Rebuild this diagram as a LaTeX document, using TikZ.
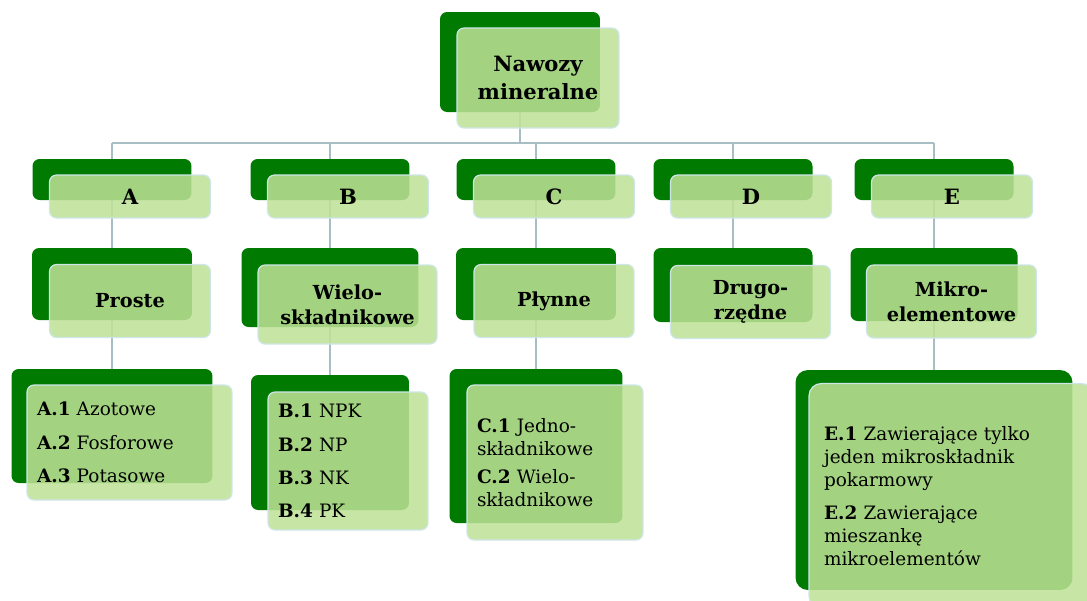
\documentclass[tikz,border=0pt]{standalone}
\usepackage{fontspec}
\setmainfont{DejaVu Serif}
\usepackage{xcolor}
\usepackage{tikz}
\usetikzlibrary{calc,backgrounds}

\definecolor{leafdark}{RGB}{0,122,0}
\definecolor{leaflight}{RGB}{190,226,150}
\definecolor{leafedge}{RGB}{206,230,232}
\definecolor{linkgray}{RGB}{166,190,196}

\tikzset{
    backbox/.style={fill=leafdark, rounded corners=4pt, inner sep=0pt},
    frontbox/.style={fill=leaflight, fill opacity=0.86, text opacity=1, draw=leafedge,
        line width=0.7pt, rounded corners=4pt, inner sep=0pt, align=center,
        font=\bfseries\fontsize{11}{14}\selectfont},
    listbox/.style={frontbox, align=left, inner xsep=0.2cm,
        font=\fontsize{10.5}{13}\selectfont},
    link/.style={draw=linkgray, line width=1.3pt},
}

\begin{document}
\begin{tikzpicture}[x=0.02cm, y=-0.02cm]
    \useasboundingbox (0,0) rectangle (1087,600);

    % Root
    \node[backbox, minimum width=3.2cm, minimum height=2cm] (root) at (520,62) {};
    \node[frontbox, minimum width=3.24cm, minimum height=2cm,
        font=\bfseries\fontsize{12}{15.5}\selectfont] (root-f) at ([shift={(18,16)}]root) {Nawozy\\mineralne};

    % Level 1 (letters)
    \foreach \n/\x in {A/112, B/330, C/536, D/733, E/934} {
        \node[backbox, minimum width=3.18cm, minimum height=0.82cm] (\n) at (\x,179.5) {};
        \node[frontbox, minimum width=3.22cm, minimum height=0.86cm,
            font=\bfseries\fontsize{12}{14}\selectfont] (\n-f) at ([shift={(18,17)}]\n) {\n};
    }

    % Level 2 (groups)
    \node[backbox, minimum width=3.2cm, minimum height=1.44cm] (A2) at (112,284) {};
    \node[frontbox, minimum width=3.22cm, minimum height=1.46cm] (A2-f) at ([shift={(18,17)}]A2) {Proste};
    \node[backbox, minimum width=3.54cm, minimum height=1.58cm] (B2) at (330,287.5) {};
    \node[frontbox, minimum width=3.58cm, minimum height=1.58cm] (B2-f) at ([shift={(17.5,17)}]B2) {Wielo-\\składnikowe};
    \node[backbox, minimum width=3.2cm, minimum height=1.44cm] (C2) at (536,284) {};
    \node[frontbox, minimum width=3.2cm, minimum height=1.46cm] (C2-f) at ([shift={(18,17)}]C2) {Płynne};
    \node[backbox, minimum width=3.18cm, minimum height=1.48cm] (D2) at (733,285) {};
    \node[frontbox, minimum width=3.2cm, minimum height=1.46cm] (D2-f) at ([shift={(17.5,17)}]D2) {Drugo-\\rzędne};
    \node[backbox, minimum width=3.34cm, minimum height=1.46cm] (E2) at (934,284.5) {};
    \node[frontbox, minimum width=3.4cm, minimum height=1.46cm] (E2-f) at ([shift={(17.5,17)}]E2) {Mikro-\\elementowe};

    % Level 3 (lists)
    \node[backbox, minimum width=4.02cm, minimum height=2.28cm] (A3) at (112,426) {};
    \node[listbox, text width=3.7cm, minimum height=2.3cm] (A3-f) at ([shift={(17.5,16.5)}]A3)
        {\textbf{A.1} Azotowe\\[6pt] \textbf{A.2} Fosforowe\\[6pt] \textbf{A.3} Potasowe};
    \node[backbox, minimum width=3.16cm, minimum height=2.7cm] (B3) at (330,442.5) {};
    \node[listbox, text width=2.8cm, minimum height=2.76cm] (B3-f) at ([shift={(18,18.5)}]B3)
        {\textbf{B.1} NPK\\[6pt] \textbf{B.2} NP\\[6pt] \textbf{B.3} NK\\[6pt] \textbf{B.4} PK};
    \node[backbox, minimum width=3.46cm, minimum height=3.08cm] (C3) at (536,446) {};
    \node[listbox, text width=3.12cm, minimum height=3.1cm] (C3-f) at ([shift={(19,16.5)}]C3)
        {\textbf{C.1} Jedno-\\składnikowe\\[3pt] \textbf{C.2} Wielo-\\składnikowe};
    \node[backbox, rounded corners=7pt, minimum width=5.54cm, minimum height=4.4cm] (E3) at (934,480) {};
    \node[listbox, rounded corners=7pt, inner xsep=0.3cm, text width=5.1cm, minimum height=4.5cm] (E3-f) at ([shift={(17.5,16)}]E3)
        {\textbf{E.1} Zawierające tylko\\jeden mikroskładnik\\pokarmowy\\[6pt]
         \textbf{E.2} Zawierające\\mieszankę\\mikroelementów};

    % Links
    \begin{scope}[on background layer]
        \coordinate (bus) at (520,143);
        \draw[link] (root.south) -- (bus);
        \draw[link] (bus -| A.north) -- (bus -| E.north);
        \foreach \n in {A,B,C,D,E} {
            \draw[link] (bus -| \n.north) -- (\n.north);
            \draw[link] (\n.south) -- (\n2.north);
        }
        \foreach \n in {A,B,C,E} {
            \draw[link] (\n2.south) -- (\n3.north);
        }
    \end{scope}
\end{tikzpicture}
\end{document}
